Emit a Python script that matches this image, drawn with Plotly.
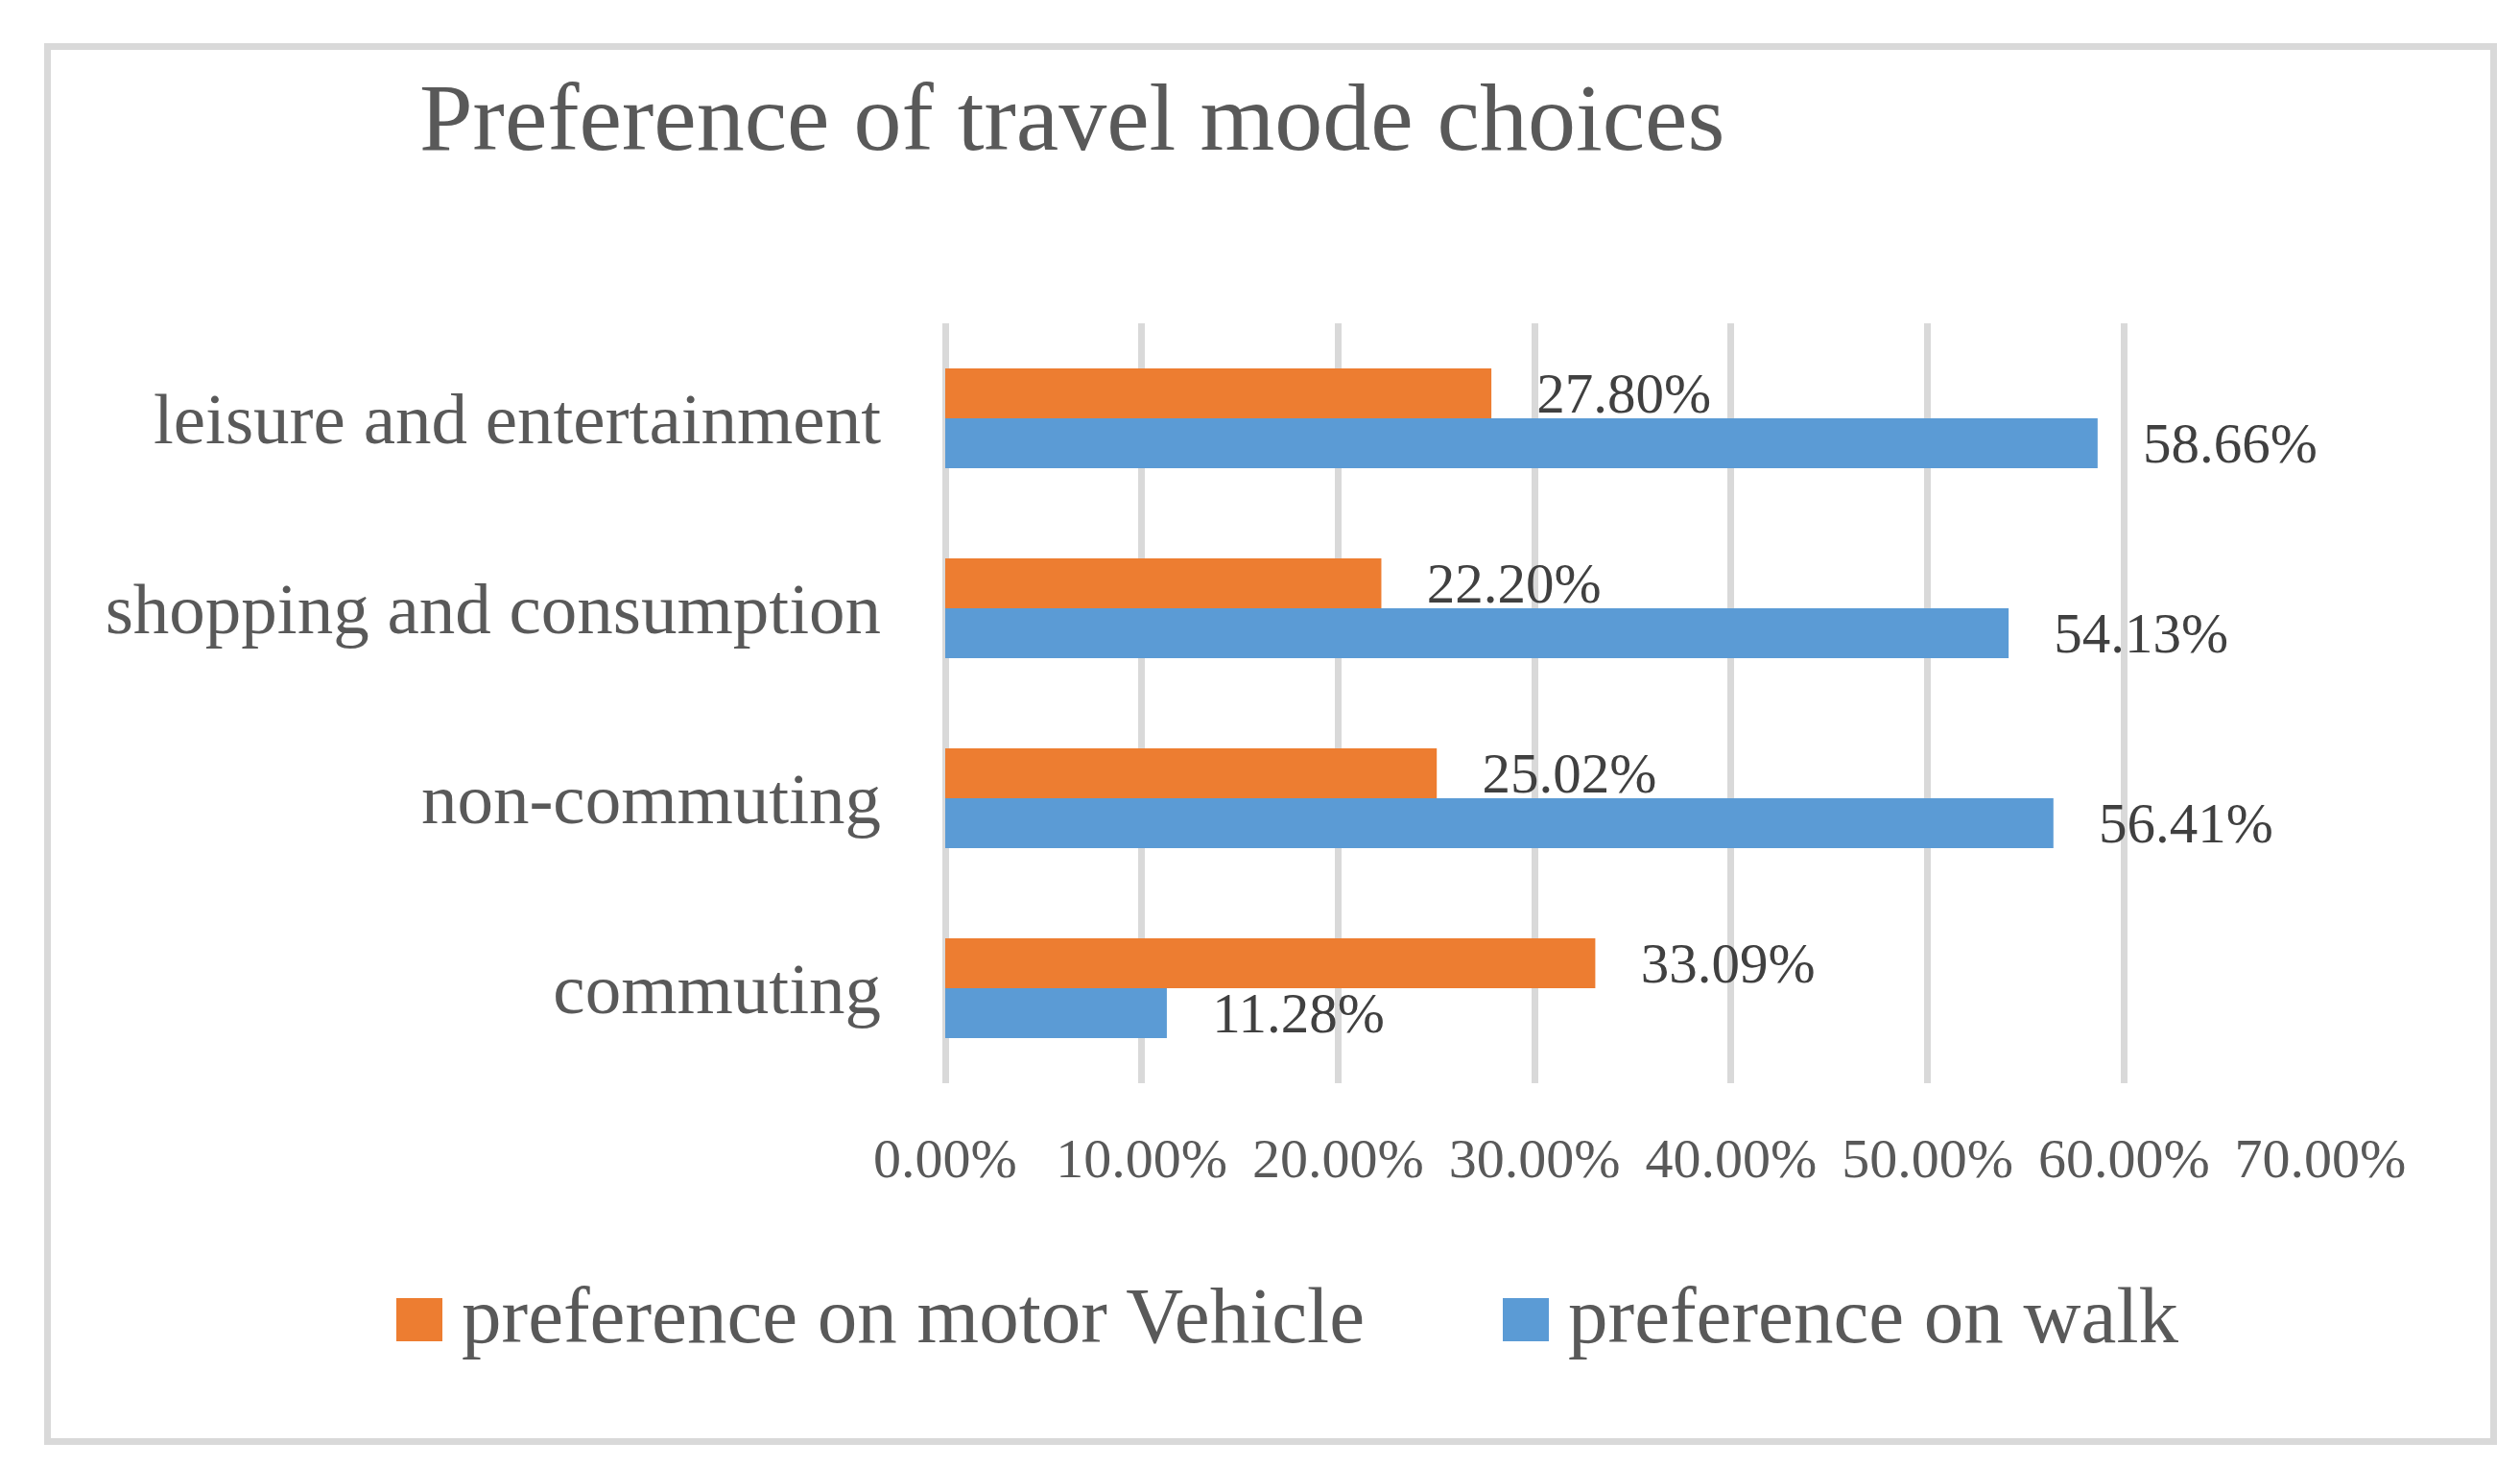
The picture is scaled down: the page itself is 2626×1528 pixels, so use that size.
import plotly.graph_objects as go

categories = ["commuting", "non-commuting", "shopping and consumption", "leisure and entertainment"]
walk = [0.1128, 0.5641, 0.5413, 0.5866]
motor = [0.3309, 0.2502, 0.2220, 0.2780]
series_names = ["preference on motor Vehicle", "preference on walk"]
x_ticks = [0.0, 0.1, 0.2, 0.3, 0.4, 0.5, 0.6, 0.7]
x_tick_labels = ["0.00%", "10.00%", "20.00%", "30.00%", "40.00%", "50.00%", "60.00%", "70.00%"]
title_text = "Preference of travel mode choices"

W, H = 2626, 1528
ML, MR, MT, MB = 985, 208, 337, 399
FONT = "Liberation Serif"
ORANGE = "#ED7D31"
BLUE = "#5B9BD5"
GRID = "#D9D9D9"
TXT = "#595959"
LBL = "#404040"

fig = go.Figure()
fig.add_trace(go.Bar(
    y=categories, x=walk, orientation="h", name=series_names[1],
    marker=dict(color=BLUE, line=dict(width=0)),
    texttemplate="\u00a0\u00a0\u00a0%{x:.2%}", textposition="outside",
    textfont=dict(family=FONT, size=59, color=LBL),
    constraintext="none", cliponaxis=False, legendrank=2,
))
fig.add_trace(go.Bar(
    y=categories, x=motor, orientation="h", name=series_names[0],
    marker=dict(color=ORANGE, line=dict(width=0)),
    texttemplate="\u00a0\u00a0\u00a0%{x:.2%}", textposition="outside",
    textfont=dict(family=FONT, size=59, color=LBL),
    constraintext="none", cliponaxis=False, legendrank=1,
))

pw = W - ML - MR
ph = H - MT - MB
def px_x(p):
    return (p - ML) / pw
def px_y(p):
    return 1 - (p - MT) / ph

fig.update_layout(
    width=W, height=H,
    margin=dict(l=ML, r=MR, t=MT, b=MB, autoexpand=False),
    paper_bgcolor="white", plot_bgcolor="white",
    barmode="group", bargap=0.474, bargroupgap=0,
    font=dict(family=FONT, color=TXT),
    title=dict(text=title_text, font=dict(family=FONT, size=100, color=TXT),
               x=437 / W, xref="container", xanchor="left",
               y=1 - 121 / H, yref="container", yanchor="middle"),
    xaxis=dict(range=[0, 0.7], tickvals=x_ticks, ticktext=x_tick_labels,
               showgrid=True, gridcolor=GRID, gridwidth=7,
               zeroline=True, zerolinecolor=GRID, zerolinewidth=7,
               showline=False, ticks="outside", ticklen=27, tickcolor="rgba(0,0,0,0)",
               tickfont=dict(family=FONT, size=58, color=TXT), fixedrange=True),
    yaxis=dict(categoryorder="array", categoryarray=categories,
               showgrid=False, zeroline=False, showline=False,
               ticks="outside", ticklen=51, tickcolor="rgba(0,0,0,0)",
               tickfont=dict(family=FONT, size=75, color=TXT), fixedrange=True),
    showlegend=True,
    legend=dict(orientation="h", xref="paper", yref="paper",
                x=px_x(393), xanchor="left", y=px_y(1367), yanchor="middle",
                font=dict(family=FONT, size=83, color=TXT),
                itemwidth=78, entrywidthmode="pixels", entrywidth=1060,
                bgcolor="rgba(0,0,0,0)", borderwidth=0, traceorder="normal"),
    shapes=[dict(type="rect", xref="paper", yref="paper",
                 x0=px_x(49.5), x1=px_x(2598.5), y0=px_y(1502.5), y1=px_y(48.5),
                 line=dict(color=GRID, width=7), fillcolor="rgba(0,0,0,0)", layer="below")],
)

post = """
document.body.style.margin = '0';
document.documentElement.style.margin = '0';
var gd = document.getElementById('{plot_id}');
gd.querySelectorAll('.legend g.legendpoints path').forEach(function(p){
  p.setAttribute('d','M24,31H-24V-14H24Z');
});
"""
fig.write_html("out.html", post_script=post, config={"displayModeBar": False})
